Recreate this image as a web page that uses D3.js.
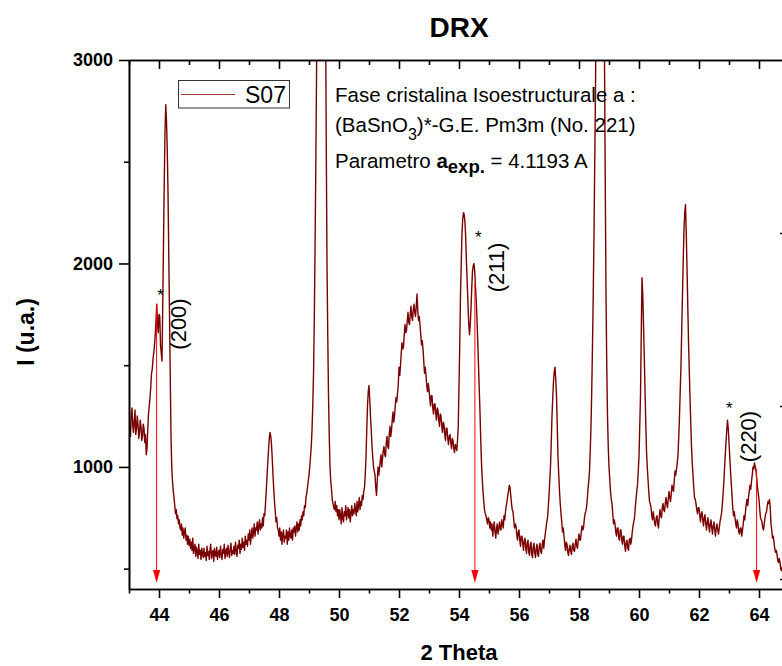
<!DOCTYPE html>
<html>
<head>
<meta charset="utf-8">
<script src="https://cdn.jsdelivr.net/npm/d3@7"></script>
<style>
  html, body { margin: 0; padding: 0; background: #fff; }
  svg { display: block; font-family: "Liberation Sans", Arial, Helvetica, sans-serif; }
</style>
</head>
<body>
<svg id="chart" width="782" height="666"></svg>
<script>
// Diffractogram of sample S07, sampled every 0.025 deg in 2-theta from 43.000 deg
const thetaStart = 43.0;
const thetaStep = 0.025;
const intensity = [
  // 43.0 - 43.475
  1240,1180,1150,1260,1290,1200,1170,1230,1280,1160,1190,1250,1210,1140,1170,1230,1200,1130,1150,1210,
  // 43.5
  1190,1120,1160,1060,1090,1180,1260,1300,1340,1390,1460,1480,1530,1560,1600,1650,1720,1800,1700,1660,
  // 44.0
  1750,1740,1600,1560,1520,1800,2100,2400,2650,2780,2700,2560,2350,2050,1750,1450,1150,1000,930,880,
  // 44.5
  850,810,770,790,745,760,720,740,700,690,720,665,700,650,680,700,640,665,620,660,
  // 45.0
  615,645,600,630,590,650,575,600,620,560,605,585,550,620,570,590,545,600,575,555,
  // 45.5
  600,560,580,540,610,565,585,545,595,620,550,575,590,535,600,570,560,605,545,580,
  // 46.0
  590,555,610,570,545,595,575,620,550,585,600,560,615,580,555,600,625,565,590,575,
  // 46.5
  610,570,630,590,560,615,600,640,575,620,595,650,605,630,590,660,620,640,610,670,
  // 47.0
  640,690,620,660,700,650,680,720,660,700,690,730,670,710,740,690,720,700,750,710,
  // 47.5
  770,760,820,880,950,1020,1080,1140,1170,1150,1110,1040,960,890,830,780,730,750,700,690,
  // 48.0
  660,700,640,680,620,670,690,630,660,650,690,620,680,640,700,660,650,690,640,700,
  // 48.5
  680,710,660,700,730,680,720,690,740,710,760,740,780,760,810,800,850,870,900,930,
  // 49.0
  960,1000,1050,1100,1180,1300,1450,1700,2050,2450,2900,3500,4200,4900,5600,6000,6200,6100,5800,5300,
  // 49.5
  4600,4000,3300,2600,2000,1650,1350,1150,1000,930,890,840,820,800,790,830,780,810,760,790,
  // 50.0
  740,790,760,720,800,750,730,780,760,810,740,770,800,750,790,730,770,810,760,790,
  // 50.5
  770,820,790,760,830,780,810,850,790,830,810,860,840,880,900,960,1050,1180,1300,1370,
  // 51.0
  1400,1330,1250,1180,1100,1050,1000,980,960,900,860,930,1000,960,990,1030,1060,1000,1040,1080,
  // 51.5
  1100,1060,1050,1120,1150,1100,1090,1160,1200,1150,1180,1230,1270,1220,1250,1300,1340,1320,1360,1400,
  // 52.0
  1490,1450,1500,1560,1610,1580,1590,1650,1700,1660,1670,1720,1760,1710,1700,1750,1790,1740,1720,1770,
  // 52.5
  1800,1760,1740,1790,1850,1770,1720,1740,1700,1650,1600,1620,1580,1520,1460,1490,1450,1400,1370,1410,
  // 53.0
  1380,1340,1300,1350,1350,1290,1260,1310,1310,1260,1230,1290,1280,1230,1200,1260,1250,1200,1170,1220,
  // 53.5
  1210,1160,1130,1190,1190,1140,1110,1150,1160,1120,1090,1140,1130,1090,1070,1110,1100,1080,1130,1200,
  // 54.0
  1400,1600,1850,2000,2150,2220,2250,2240,2200,2120,2000,1900,1800,1700,1650,1700,1780,1880,1960,1990,
  // 54.5
  2000,1960,1880,1820,1720,1620,1500,1380,1270,1130,1020,940,880,830,790,770,760,740,720,750,
  // 55.0
  740,700,730,690,720,660,700,730,680,650,700,720,670,690,730,700,690,740,720,700,
  // 55.5
  760,740,780,810,830,860,880,910,900,860,820,790,780,740,700,720,710,670,640,680,
  // 56.0
  690,640,610,660,660,620,590,640,650,600,575,630,640,580,565,620,630,570,555,610,
  // 56.5
  625,575,555,600,620,570,560,610,625,585,575,620,640,600,640,670,700,730,750,800,
  // 57.0
  860,930,1000,1120,1250,1340,1420,1470,1490,1430,1350,1200,1050,960,880,820,770,730,680,700,
  // 57.5
  660,620,590,630,620,580,565,600,615,585,570,610,625,590,585,620,645,610,600,640,
  // 58.0
  670,640,640,680,710,690,700,740,770,780,800,840,890,930,980,1080,1200,1380,1600,1850,
  // 58.5
  2150,2500,2850,3350,3900,4450,5000,5350,5600,5450,5200,4750,4200,3600,3000,2400,1850,1500,1250,1100,
  // 59.0
  1000,940,880,840,820,770,720,740,720,680,660,700,700,650,640,690,690,640,620,660,
  // 59.5
  660,610,585,630,640,600,590,640,650,620,640,680,710,730,750,800,840,880,910,980,
  // 60.0
  1050,1200,1350,1650,1930,1850,1700,1550,1380,1220,1080,1000,940,880,830,820,800,760,740,780,
  // 60.5
  750,720,710,750,760,720,700,750,790,760,750,800,820,790,780,820,850,820,800,840,
  // 61.0
  880,850,830,870,910,890,880,930,980,960,990,1020,1060,1150,1250,1380,1500,1680,1850,2020,
  // 61.5
  2170,2250,2290,2150,1980,1800,1620,1480,1340,1220,1100,1020,960,900,850,840,820,790,770,800,
  // 62.0
  800,760,730,770,780,740,710,750,765,720,690,730,750,710,680,720,740,700,670,710,
  // 62.5
  730,690,660,700,720,690,670,700,730,750,770,810,860,920,990,1060,1120,1180,1230,1190,
  // 63.0
  1120,1050,980,920,860,800,760,780,750,720,700,740,720,680,670,700,700,660,690,720,
  // 63.5
  760,740,780,820,840,810,850,880,910,890,930,960,1000,990,1020,1000,980,940,900,870,
  // 64.0
  840,790,750,740,730,700,690,720,750,770,780,810,830,820,840,800,720,690,650,660,
  // 64.5
  630,600,580,590,570,540,530,550,530,500,490,510,500,470,480,470,460,470,460,450,
  // 65.0
  460
];

// Axis ticks
const xMajorTicks = [44, 46, 48, 50, 52, 54, 56, 58, 60, 62, 64];
const xMinorTicks = [43, 45, 47, 49, 51, 53, 55, 57, 59, 61, 63, 65];
const yMajorTicks = [1000, 2000, 3000];
const yMinorTicks = [500, 1500, 2500];
const rightTicks = [1, 2, 3];

// Indexed reflections of the BaSnO3-type phase
const hklLabels = ["(200)", "(211)", "(220)"];
const hklTheta = [43.92, 54.53, 63.92];
const hklArrowTop = [1800, 1900, 990];
const arrowTipValue = 430;

const seriesName = "S07";

const svg = d3.select("#chart");
const plot = { left: 129, right: 789, top: 60, bottom: 589 };

const x = d3.scaleLinear().domain([43, 65]).range([plot.left, plot.right]);
const y = d3.scaleLinear().domain([400, 3000]).range([plot.bottom, plot.top]);
const y2 = d3.scaleLinear().domain([0.942, 4.0]).range([plot.bottom, plot.top]);

const points = intensity.map((v, i) => ({ t: thetaStart + i * thetaStep, v }));

// Title
svg.append("text")
  .attr("x", (plot.left + plot.right) / 2).attr("y", 37)
  .attr("text-anchor", "middle")
  .style("font-size", "28px").style("font-weight", "bold")
  .text("DRX");

// Clip for the pattern
svg.append("defs").append("clipPath").attr("id", "plotClip")
  .append("rect")
  .attr("x", plot.left).attr("y", plot.top)
  .attr("width", plot.right - plot.left).attr("height", plot.bottom - plot.top);

// Diffraction pattern
const line = d3.line().x(d => x(d.t)).y(d => y(d.v));
svg.append("path")
  .datum(points)
  .attr("clip-path", "url(#plotClip)")
  .attr("fill", "none")
  .attr("stroke", "#7a0000")
  .attr("stroke-width", 1.4)
  .attr("stroke-linejoin", "round")
  .attr("d", line);

// Axes
function styleAxis(g) {
  g.selectAll("path.domain").attr("stroke", "#000").attr("stroke-width", 1.6);
  g.selectAll(".tick line").attr("stroke", "#000").attr("stroke-width", 1.6);
  g.selectAll(".tick text")
    .attr("fill", "#000")
    .style("font-family", "'Liberation Sans', Arial, sans-serif")
    .style("font-size", "18px").style("font-weight", "bold");
}

// bottom
svg.append("g").attr("transform", `translate(0,${plot.bottom})`)
  .call(d3.axisBottom(x).tickValues(xMinorTicks).tickSize(4.5).tickSizeOuter(0).tickFormat(""))
  .call(styleAxis);
svg.append("g").attr("transform", `translate(0,${plot.bottom})`)
  .call(d3.axisBottom(x).tickValues(xMajorTicks).tickSize(9).tickSizeOuter(0).tickPadding(10).tickFormat(d3.format("d")))
  .call(styleAxis);

// top (ticks pointing in)
svg.append("g").attr("transform", `translate(0,${plot.top})`)
  .call(d3.axisTop(x).tickValues(xMinorTicks).tickSize(-5).tickSizeOuter(0).tickFormat(""))
  .call(styleAxis);
svg.append("g").attr("transform", `translate(0,${plot.top})`)
  .call(d3.axisTop(x).tickValues(xMajorTicks).tickSize(-9).tickSizeOuter(0).tickFormat(""))
  .call(styleAxis);

// left
svg.append("g").attr("transform", `translate(${plot.left},0)`)
  .call(d3.axisLeft(y).tickValues(yMinorTicks).tickSize(5).tickSizeOuter(0).tickFormat(""))
  .call(styleAxis);
svg.append("g").attr("transform", `translate(${plot.left},0)`)
  .call(d3.axisLeft(y).tickValues(yMajorTicks).tickSize(10).tickSizeOuter(0).tickPadding(6).tickFormat(d3.format("d")))
  .call(styleAxis);

// right (ticks pointing in)
svg.append("g").attr("transform", `translate(${plot.right},0)`)
  .call(d3.axisRight(y2).tickValues(rightTicks).tickSize(-9).tickSizeOuter(0).tickFormat(""))
  .call(styleAxis);

// Axis titles
svg.append("text")
  .attr("x", (plot.left + plot.right) / 2).attr("y", 660)
  .attr("text-anchor", "middle")
  .style("font-size", "22px").style("font-weight", "bold")
  .text("2 Theta");
svg.append("text")
  .attr("transform", "translate(34,332) rotate(-90)")
  .attr("text-anchor", "middle")
  .style("font-size", "23px").style("font-weight", "bold")
  .text("I (u.a.)");

// Reflection markers: arrows, indices and asterisks
const labelLayout = [
  { dx: 29.4, yc: 324, sx: 4, sy: 291.7 },
  { dx: 28.8, yc: 267.5, sx: 3.4, sy: 233 },
  { dx: -0.2, yc: 436.5, sx: -27.3, sy: 404 }
];
const tipY = y(arrowTipValue);
hklTheta.forEach((t, i) => {
  const px = x(t);
  svg.append("line")
    .attr("x1", px).attr("x2", px)
    .attr("y1", y(hklArrowTop[i])).attr("y2", tipY - 12)
    .attr("stroke", "#ff0000").attr("stroke-width", 1);
  svg.append("path")
    .attr("d", `M${px - 3.6},${tipY - 13}L${px + 3.6},${tipY - 13}L${px},${tipY}Z`)
    .attr("fill", "#ff0000");
  const L = labelLayout[i];
  svg.append("text")
    .attr("transform", `translate(${px + L.dx},${L.yc}) rotate(-90)`)
    .attr("text-anchor", "middle")
    .style("font-size", "22px")
    .text(hklLabels[i]);
  svg.append("text")
    .attr("x", px + L.sx).attr("y", L.sy + 9.5)
    .attr("text-anchor", "middle")
    .style("font-size", "17px")
    .text("*");
});

// Phase description
const note = svg.append("g").style("font-size", "20.5px");
note.append("text").attr("x", 335).attr("y", 101.5)
  .text("Fase cristalina Isoestructurale a :");
const l2 = note.append("text").attr("x", 335).attr("y", 132);
l2.append("tspan").text("(BaSnO");
l2.append("tspan").attr("dy", 8).style("font-size", "16px").text("3");
l2.append("tspan").attr("dy", -8).text(")*-G.E. Pm3m (No. 221)");
const l3 = note.append("text").attr("x", 335).attr("y", 167.5);
l3.append("tspan").text("Parametro ");
l3.append("tspan").style("font-weight", "bold").text("a");
l3.append("tspan").attr("dy", 5).style("font-weight", "bold").style("font-size", "18.5px").text("exp.");
l3.append("tspan").attr("dy", -5).text(" = 4.1193 A");

// Legend
const lg = svg.append("g");
lg.append("rect")
  .attr("x", 178.5).attr("y", 80.5).attr("width", 111).attr("height", 27.5)
  .attr("fill", "#fff").attr("stroke", "#333").attr("stroke-width", 1);
lg.append("line")
  .attr("x1", 181).attr("x2", 235).attr("y1", 94.5).attr("y2", 94.5)
  .attr("stroke", "#b03030").attr("stroke-width", 1);
lg.append("text")
  .attr("x", 245).attr("y", 102.5)
  .style("font-size", "23px")
  .text(seriesName);
</script>
</body>
</html>
